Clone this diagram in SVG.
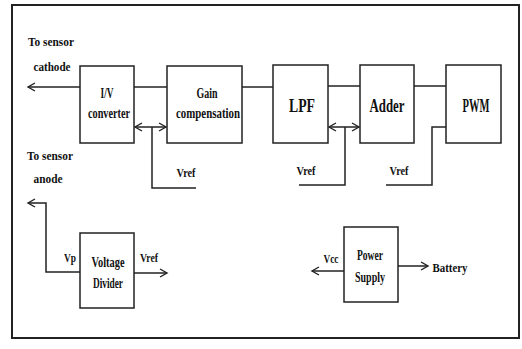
<svg xmlns="http://www.w3.org/2000/svg" width="522" height="349" viewBox="0 0 522 349">
<defs>
<style>
.b{fill:#fff;stroke:#222;stroke-width:1.5}
.l{fill:none;stroke:#222;stroke-width:1.5}
.t{font-family:"Liberation Serif",serif;font-weight:bold;font-size:14px;fill:#111;text-anchor:middle}
.s{font-size:13px}
.k{font-size:18px}
</style>
<marker id="a" markerWidth="10" markerHeight="10" refX="8" refY="5" orient="auto-start-reverse" markerUnits="userSpaceOnUse">
<path d="M1,1 L8,5 L1,9" fill="none" stroke="#222" stroke-width="1.4"/>
</marker>
</defs>
<rect x="0" y="0" width="522" height="349" fill="#fff"/>
<rect x="12" y="5" width="507" height="333" fill="none" stroke="#222" stroke-width="2"/>
<g id="connectors">
<line class="l" x1="80" y1="87" x2="28" y2="87" marker-end="url(#a)"/>
<line class="l" x1="134" y1="87" x2="167" y2="87"/>
<line class="l" x1="242" y1="87" x2="273" y2="87"/>
<line class="l" x1="328" y1="86" x2="360" y2="86"/>
<line class="l" x1="414" y1="86" x2="446" y2="86"/>
<line class="l" x1="135" y1="127" x2="166" y2="127" marker-start="url(#a)" marker-end="url(#a)"/>
<polyline class="l" points="152,127 152,188 196,188"/>
<line class="l" x1="329" y1="127" x2="359" y2="127" marker-start="url(#a)" marker-end="url(#a)"/>
<polyline class="l" points="345,127 345,185 299,185"/>
<polyline class="l" points="446,127 432,127 432,185 386,185"/>
<polyline class="l" points="80,272 46,272 46,203 28,203" marker-end="url(#a)"/>
<line class="l" x1="134" y1="273" x2="167" y2="273" marker-end="url(#a)"/>
<line class="l" x1="344" y1="271" x2="312" y2="271" marker-end="url(#a)"/>
<line class="l" x1="398" y1="266" x2="428" y2="266" marker-end="url(#a)"/>
</g>
<g id="labels">
<text class="t s" x="51" y="46" textLength="46" lengthAdjust="spacingAndGlyphs">To sensor</text>
<text class="t s" x="52" y="71" textLength="37" lengthAdjust="spacingAndGlyphs">cathode</text>
<text class="t s" x="50" y="160" textLength="46" lengthAdjust="spacingAndGlyphs">To sensor</text>
<text class="t s" x="48" y="183" textLength="29" lengthAdjust="spacingAndGlyphs">anode</text>
<text class="t s" x="186" y="177" textLength="19" lengthAdjust="spacingAndGlyphs">Vref</text>
<text class="t s" x="306" y="175" textLength="19" lengthAdjust="spacingAndGlyphs">Vref</text>
<text class="t s" x="399" y="175" textLength="19" lengthAdjust="spacingAndGlyphs">Vref</text>
<text class="t s" x="70" y="262" textLength="12" lengthAdjust="spacingAndGlyphs">Vp</text>
<text class="t s" x="149" y="262" textLength="18" lengthAdjust="spacingAndGlyphs">Vref</text>
<text class="t s" x="331" y="263" textLength="15" lengthAdjust="spacingAndGlyphs">Vcc</text>
<text class="t s" x="450" y="272" textLength="35" lengthAdjust="spacingAndGlyphs">Battery</text>
</g>
<g id="iv">
<rect class="b" x="80" y="66" width="54" height="77"/>
<text class="t" x="107" y="98" textLength="13" lengthAdjust="spacingAndGlyphs">I/V</text>
<text class="t" x="109" y="118" textLength="42" lengthAdjust="spacingAndGlyphs">converter</text>
</g>
<g id="gain">
<rect class="b" x="167" y="66" width="75" height="77"/>
<text class="t" x="207" y="98" textLength="21" lengthAdjust="spacingAndGlyphs">Gain</text>
<text class="t" x="208" y="118" textLength="64" lengthAdjust="spacingAndGlyphs">compensation</text>
</g>
<g id="lpf">
<rect class="b" x="273" y="65" width="55" height="78"/>
<text class="t k" x="302" y="112" textLength="26" lengthAdjust="spacingAndGlyphs">LPF</text>
</g>
<g id="adder">
<rect class="b" x="360" y="65" width="54" height="78"/>
<text class="t k" x="387" y="112" textLength="35" lengthAdjust="spacingAndGlyphs">Adder</text>
</g>
<g id="pwm">
<rect class="b" x="446" y="65" width="55" height="78"/>
<text class="t k" x="476" y="112" textLength="27" lengthAdjust="spacingAndGlyphs">PWM</text>
</g>
<g id="divider">
<rect class="b" x="80" y="233" width="54" height="75"/>
<text class="t" x="108" y="267" textLength="33" lengthAdjust="spacingAndGlyphs">Voltage</text>
<text class="t" x="108" y="288" textLength="30" lengthAdjust="spacingAndGlyphs">Divider</text>
</g>
<g id="power">
<rect class="b" x="344" y="227" width="54" height="75"/>
<text class="t" x="370" y="260" textLength="26" lengthAdjust="spacingAndGlyphs">Power</text>
<text class="t" x="370" y="282" textLength="30" lengthAdjust="spacingAndGlyphs">Supply</text>
</g>
</svg>
